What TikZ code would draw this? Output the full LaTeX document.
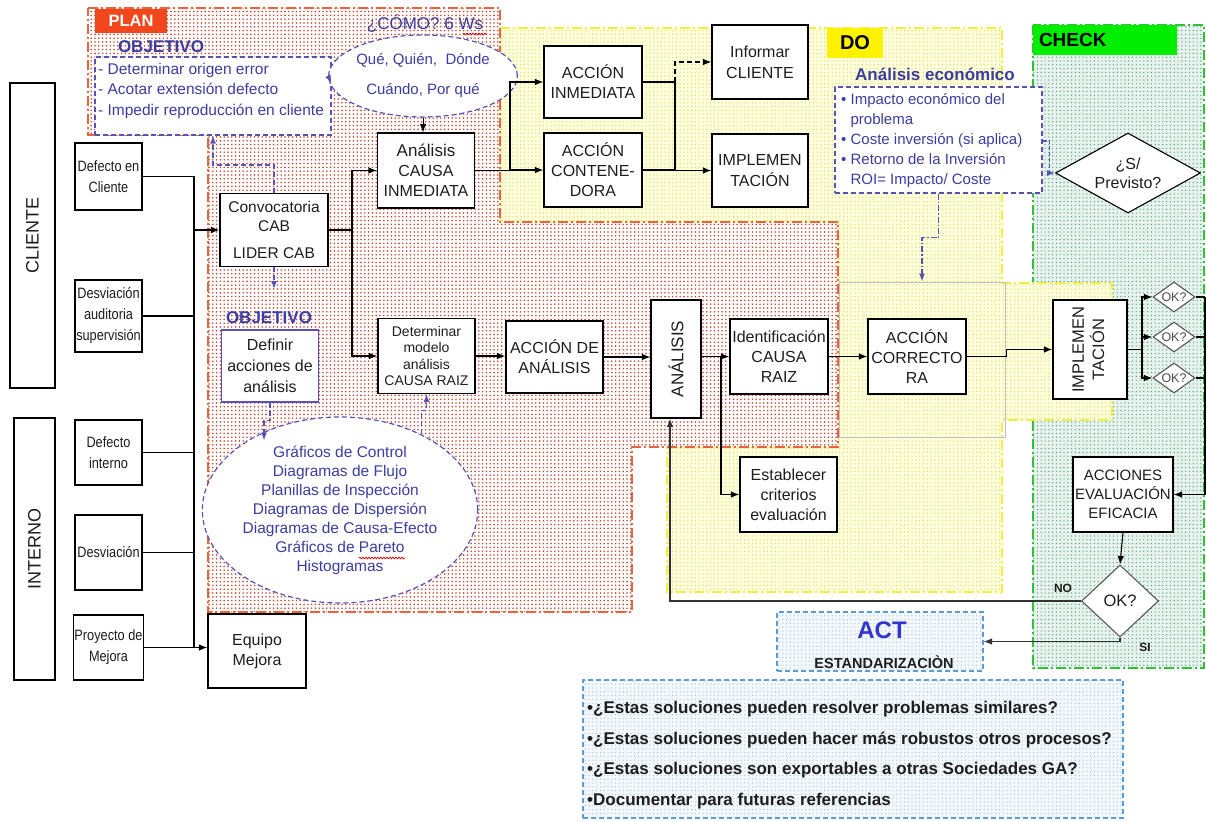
\documentclass[tikz,border=0pt]{standalone}
\usepackage{graphicx}
\usepackage{fontspec}
\setmainfont{Liberation Sans}
\newfontfamily\narrowsans[FakeStretch=0.85]{Liberation Sans}
\usetikzlibrary{arrows.meta,shapes.geometric,patterns.meta,decorations.pathmorphing}

\definecolor{planline}{HTML}{E8643C}
\definecolor{plandot}{HTML}{C04A36}
\definecolor{planlabel}{HTML}{F2471C}
\definecolor{doline}{HTML}{F0F040}
\definecolor{dobg}{HTML}{FFFFDC}
\definecolor{dodot}{HTML}{DCDC78}
\definecolor{chkline}{HTML}{34C034}
\definecolor{chkbg}{HTML}{E6F3EC}
\definecolor{chkdot}{HTML}{5E9A84}
\definecolor{chklabel}{HTML}{00EE00}
\definecolor{actline}{HTML}{5E9CCF}
\definecolor{actbg}{HTML}{F2F8FB}
\definecolor{actdot}{HTML}{A2BED2}
\definecolor{ink}{HTML}{3D3D9E}
\definecolor{inkdash}{HTML}{5A52B2}
\definecolor{acttitle}{HTML}{3434D0}
\definecolor{boxtext}{HTML}{1E1E1E}

\newcommand\fsz[2]{\fontsize{#1}{#2}\selectfont}

\begin{document}
\begin{tikzpicture}[x=1pt, y=-1pt,
  zone/.style n args={4}{preaction={fill=#1}, pattern={Dots[distance=3.8pt,radius=#4]},
    pattern color=#2, draw=#3, line width=1.3pt, dash pattern=on 10pt off 3pt on 2pt off 3pt},
  box/.style={draw=black, line width=1.1pt, fill=white, text=boxtext, align=center,
    inner sep=1pt, font=\fsz{16}{20}},
  sbox/.style={box, font=\narrowsans\fsz{15}{21}},
  ln/.style={draw=black, line width=1.1pt},
  arr/.style={ln, -{Latex[length=8.5pt,width=6.5pt]}},
  bdash/.style={draw=inkdash, line width=1.2pt, dash pattern=on 5pt off 3pt},
  barr/.style={bdash, -{Latex[length=8pt,width=6pt]}},
  btxt/.style={text=ink, align=center},
  dia/.style={diamond, draw=black!75, line width=1.1pt, fill=white, inner sep=0pt},
  lbl/.style={inner sep=0pt, text=boxtext, align=center},
  squig/.style={draw=red!80!black, line width=0.7pt, decorate,
    decoration={snake, amplitude=0.9pt, segment length=3pt}},
  actzone/.style={preaction={fill=actbg}, pattern={Dots[distance=3.8pt,radius=0.6pt]},
    pattern color=actdot, draw=actline, line width=1.1pt, dash pattern=on 5pt off 3pt, inner sep=0pt}
]
\useasboundingbox (0,0) rectangle (1206,821);

% ---------- phase areas ----------
\path[zone={chkbg}{chkdot}{chkline}{0.7pt}] (1033,25) rectangle (1204,668);
\path[zone={dobg}{dodot}{doline}{0.75pt}] (500,28) -- (1002,28) -- (1002,283) -- (1112,283)
  -- (1112,420) -- (1002,420) -- (1002,592) -- (667,592) -- (667,447) -- (838,447)
  -- (838,222) -- (500,222) -- cycle;
\path[zone={white}{plandot}{planline}{0.9pt}] (88,8) -- (500,8) -- (500,222) -- (838,222)
  -- (838,447) -- (632,447) -- (632,612) -- (208,612) -- (208,135) -- (88,135) -- cycle;
\node[draw=black!25, line width=1pt, minimum width=166pt, minimum height=155pt, inner sep=0pt] (corr) at (922,359.5) {};

% ---------- phase labels ----------
\node[fill=planlabel, minimum width=72pt, minimum height=24pt, inner sep=0pt, text=white,
  font=\bfseries\fsz{16.5}{18}] (planlbl) at (131,21) {PLAN};
\node[fill=yellow, minimum width=56pt, minimum height=30pt, inner sep=0pt,
  font=\bfseries\fsz{20}{22}] (dolbl) at (855,43) {DO};
\node[fill=chklabel, text width=132pt, inner xsep=6pt, inner ysep=0pt, minimum height=30pt,
  align=left, font=\bfseries\fsz{19}{21}] (chklbl) at (1105,40) {CHECK};

% ---------- PLAN: objectives and questions ----------
\node[btxt, font=\fsz{17}{20}] (como) at (425,24) {¿CÓMO? 6 Ws};
\draw[squig] (463,34) -- (487,34);
\node[btxt, font=\bfseries\fsz{17}{20}] (obj1lbl) at (161,47) {OBJETIVO};
\node[bdash, fill=white, minimum width=236pt, minimum height=78pt, inner sep=0pt] (obj) at (213,96) {};
\node[btxt, anchor=north west, align=left, inner sep=0pt, font=\fsz{15.5}{20.5}] (objtxt) at (98,63)
  {- Determinar origen error\\- Acotar extensión defecto\\- Impedir reproducción en cliente};
\node[ellipse, bdash, fill=white, minimum width=163pt, minimum height=82pt, inner sep=0pt,
  btxt, font=\fsz{15}{30}] (ell1) at (423,76) {Qué, Quién,\ \ Dónde\\Cuándo, Por qué};

% ---------- input boxes ----------
\node[box, minimum width=45pt, minimum height=305pt] (cli) at (32.5,235.5) {\rotatebox{90}{\fsz{18}{20}CLIENTE}};
\node[box, minimum width=41pt, minimum height=262pt] (intn) at (34.5,549) {\rotatebox{90}{\fsz{18}{20}INTERNO}};
\node[sbox, minimum width=67pt, minimum height=67pt] (defcli) at (108.5,176.5) {Defecto en\\Cliente};
\node[sbox, minimum width=67pt, minimum height=72pt] (desaud) at (108.5,316) {Desviación\\auditoria\\supervisión};
\node[sbox, minimum width=67pt, minimum height=65pt] (defint) at (108.5,452.5) {Defecto\\interno};
\node[sbox, minimum width=67pt, minimum height=75pt] (desv) at (108.5,552.5) {Desviación};
\node[sbox, minimum width=67pt, minimum height=65pt] (proy) at (108.5,647.5) {Proyecto de\\Mejora};

% ---------- process boxes ----------
\node[box, font=\fsz{15.5}{19}, minimum width=108pt, minimum height=73pt] (conv) at (274,230) {Convocatoria\\CAB\\[8pt]LIDER CAB};
\node[box, minimum width=98pt, minimum height=74pt] (equipo) at (257,651) {Equipo\\Mejora};
\node[box, minimum width=97pt, minimum height=75pt] (aci) at (426,170.5) {{\fsz{17}{20}Análisis}\\CAUSA\\INMEDIATA};
\node[box, font=\fsz{14}{16.5}, minimum width=97pt, minimum height=75pt] (dmc) at (426.5,356) {Determinar\\modelo\\análisis\\CAUSA RAIZ};
\node[btxt, font=\bfseries\fsz{17}{20}] (obj2lbl) at (269,318) {OBJETIVO};
\node[box, draw=inkdash, font=\fsz{16}{21}, minimum width=97pt, minimum height=72pt] (def) at (270,366) {Definir\\acciones de\\análisis};
\node[ellipse, bdash, fill=white, minimum width=216pt, minimum height=186pt, inner sep=0pt,
  btxt, font=\fsz{15.5}{19}] (ell2) at (340,510) {Gráficos de Control\\Diagramas de Flujo\\Planillas de Inspección\\Diagramas de Dispersión\\Diagramas de Causa-Efecto\\Gráficos de Pareto\\Histogramas};
\draw[squig] (359,558) -- (405,558);

\node[box, minimum width=98pt, minimum height=72pt] (aim) at (593,82) {ACCIÓN\\INMEDIATA};
\node[box, minimum width=98pt, minimum height=74pt] (acn) at (593,170) {ACCIÓN\\CONTENE-\\DORA};
\node[box, font=\fsz{16}{21}, minimum width=96pt, minimum height=74pt] (inf) at (760,62) {Informar\\CLIENTE};
\node[box, font=\fsz{16}{21}, minimum width=96pt, minimum height=73pt] (imp1) at (760,170.5) {IMPLEMEN\\TACIÓN};

\node[box, minimum width=97pt, minimum height=72pt] (aca) at (554.5,357) {ACCIÓN DE\\ANÁLISIS};
\node[box, minimum width=50pt, minimum height=118pt] (ana) at (676,359) {\rotatebox{90}{\fsz{17}{20}ANÁLISIS}};
\node[box, minimum width=98pt, minimum height=75pt] (idc) at (779,356.5) {Identificación\\CAUSA\\RAIZ};
\node[box, minimum width=97pt, minimum height=75pt] (est) at (788.5,494.5) {Establecer\\criterios\\evaluación};
\node[box, minimum width=98pt, minimum height=75pt] (acr) at (917,356.5) {ACCIÓN\\CORRECTO\\RA};
\node[box, minimum width=74pt, minimum height=99pt] (imp2) at (1090,349.5)
  {\rotatebox{90}{\fsz{16.5}{20}\begin{tabular}{@{}c@{}}IMPLEMEN\\TACIÓN\end{tabular}}};
\node[box, font=\fsz{15}{19}, minimum width=100pt, minimum height=75pt] (acc) at (1123,494.5) {ACCIONES\\EVALUACIÓN\\EFICACIA};

% ---------- economic analysis ----------
\node[btxt, font=\bfseries\fsz{17}{20}] (ecolbl) at (935,74) {Análisis económico};
\node[bdash, fill=white, minimum width=207pt, minimum height=106pt, inner sep=0pt] (eco) at (938.5,140) {};
\node[btxt, anchor=north west, align=left, inner sep=0pt, font=\fsz{15}{20}] (ecotxt) at (841,93)
  {• Impacto económico del\\\hphantom{• }problema\\• Coste inversión (si aplica)\\• Retorno de la Inversión\\\hphantom{• }ROI= Impacto/ Coste};

% ---------- decisions ----------
\node[dia, draw=black, minimum width=145pt, minimum height=80pt] (prev) at (1128,173) {};
\node[lbl, font=\fsz{16}{19}] (prevtxt) at (prev.center) {¿S/\\Previsto?};
\node[dia, draw=black!65, minimum width=42pt, minimum height=30pt] (ok1) at (1174,297) {};
\node[lbl, text=black!70, font=\fsz{12.5}{14}] (ok1t) at (ok1.center) {OK?};
\node[dia, draw=black!65, minimum width=42pt, minimum height=30pt] (ok2) at (1174,337) {};
\node[lbl, text=black!70, font=\fsz{12.5}{14}] (ok2t) at (ok2.center) {OK?};
\node[dia, draw=black!65, minimum width=42pt, minimum height=30pt] (ok3) at (1174,378) {};
\node[lbl, text=black!70, font=\fsz{12.5}{14}] (ok3t) at (ok3.center) {OK?};
\node[dia, draw=black!65, minimum width=77pt, minimum height=72pt] (ok) at (1120,601) {};
\node[lbl, font=\fsz{16.5}{18}] (okt) at (ok.center) {OK?};
\node[lbl, font=\bfseries\fsz{12}{14}] (nolbl) at (1063,588) {NO};
\node[lbl, font=\bfseries\fsz{12}{14}] (silbl) at (1145,647) {SI};

% ---------- ACT ----------
\node[actzone, minimum width=206pt, minimum height=59pt] (act) at (880,641.5) {};
\node[text=acttitle, inner sep=0pt, font=\bfseries\fsz{24}{26}] (acttxt) at (882,630) {ACT};
\node[lbl, font=\bfseries\fsz{14.5}{16}] (esttxt) at (884,662) {ESTANDARIZACIÒN};
\node[actzone, minimum width=540pt, minimum height=138pt] (qs) at (853,749) {};
\node[lbl, anchor=west, align=left, font=\bfseries\fsz{17}{30.5}] (qstxt) at (587,755)
  {•¿Estas soluciones pueden resolver problemas similares?\\
   •¿Estas soluciones pueden hacer más robustos otros procesos?\\
   •¿Estas soluciones son exportables a otras Sociedades GA?\\
   •Documentar para futuras referencias};

% ---------- connectors: inputs ----------
\coordinate (bus) at (194,0);
\draw[ln] (defcli.east) -- (defcli.east -| bus);
\draw[ln] (desaud.east) -- (desaud.east -| bus);
\draw[ln] (defint.east) -- (defint.east -| bus);
\draw[ln] (desv.east) -- (desv.east -| bus);
\draw[ln] (proy.east) -- (proy.east -| bus);
\draw[ln] (defcli.east -| bus) -- (proy.east -| bus);
\draw[arr] (conv.west -| bus) -- (conv.west);
\draw[arr] (proy.east) -- (proy.east -| equipo.west);

% ---------- connectors: PLAN ----------
\coordinate (s1) at (352,0);
\draw[ln] (conv.east) -- (conv.east -| s1);
\draw[arr] (conv.east -| s1) |- (aci.west);
\draw[arr] (conv.east -| s1) |- (dmc.west);
\draw[barr] (conv.north) -- ++(0,-28) -| (obj.south);
\draw[barr] (conv.south) -- ++(0,22);
\draw[barr] (def.south) -- ++(0,18) -- ++(-6,0) -- ++(0,20);
\draw[barr] (ell2.43) -- ++(0,-24) -| (dmc.south);
\draw[barr] (ell1.west) -- ([yshift=13pt]obj.east);
\draw[arr, line width=0.9pt] (ell1.south) -- (ell1.south |- aci.north);

% ---------- connectors: DO ----------
\coordinate (s2) at (510,0);
\draw[ln] (aci.east) -- (aci.east -| s2);
\draw[arr] (aci.east -| s2) |- (aim.west);
\draw[arr] (aci.east -| s2) |- (acn.west);
\coordinate (s3) at (675,0);
\draw[ln] (aim.east) -- (aim.east -| s3);
\draw[ln] (acn.east) -- (acn.east -| s3);
\draw[ln] (aim.east -| s3) -- (acn.east -| s3);
\draw[arr] (acn.east -| s3) |- (imp1.west);
\draw[arr, dash pattern=on 5pt off 3pt] (aim.east -| s3) |- (inf.west);

\draw[arr] (dmc.east) -- (dmc.east -| aca.west);
\draw[arr] (aca.east) -- (aca.east -| ana.west);
\draw[arr] (ana.east |- idc.west) -- (idc.west);
\coordinate (s4) at (721,0);
\draw[arr] (idc.west -| s4) |- (est.west);
\draw[arr] (idc.east) -- (idc.east -| acr.west);
\draw[arr] (acr.east) -- ++(40,0) |- (imp2.west);
\draw[barr, dash pattern=on 6pt off 2pt on 1.5pt off 2pt] (eco.south) -- ++(0,44) -| (corr.north);
\draw[barr, dash pattern=on 4pt off 2pt] ([yshift=-1pt]eco.east) -- ++(7,0) |- (prev.west);

% ---------- connectors: CHECK ----------
\coordinate (s5) at (1142,0);
\draw[ln] (imp2.east) -- (imp2.east -| s5);
\draw[arr] (imp2.east -| s5) |- (ok1.west);
\draw[arr] (imp2.east -| s5) |- (ok2.west);
\draw[arr] (imp2.east -| s5) |- (ok3.west);
\coordinate (s6) at (1205,0);
\draw[ln] (ok1.east) -- (ok1.east -| s6);
\draw[ln] (ok2.east) -- (ok2.east -| s6);
\draw[ln] (ok3.east) -- (ok3.east -| s6);
\draw[arr] (ok1.east -| s6) |- (acc.east);
\draw[arr] (acc.south) -- (ok.north);
\draw[arr, draw=black!80] (ok.west) -| ([xshift=-6pt]ana.south);
\draw[arr, draw=black!80] (ok.south) |- (act.east);
\end{tikzpicture}
\end{document}
